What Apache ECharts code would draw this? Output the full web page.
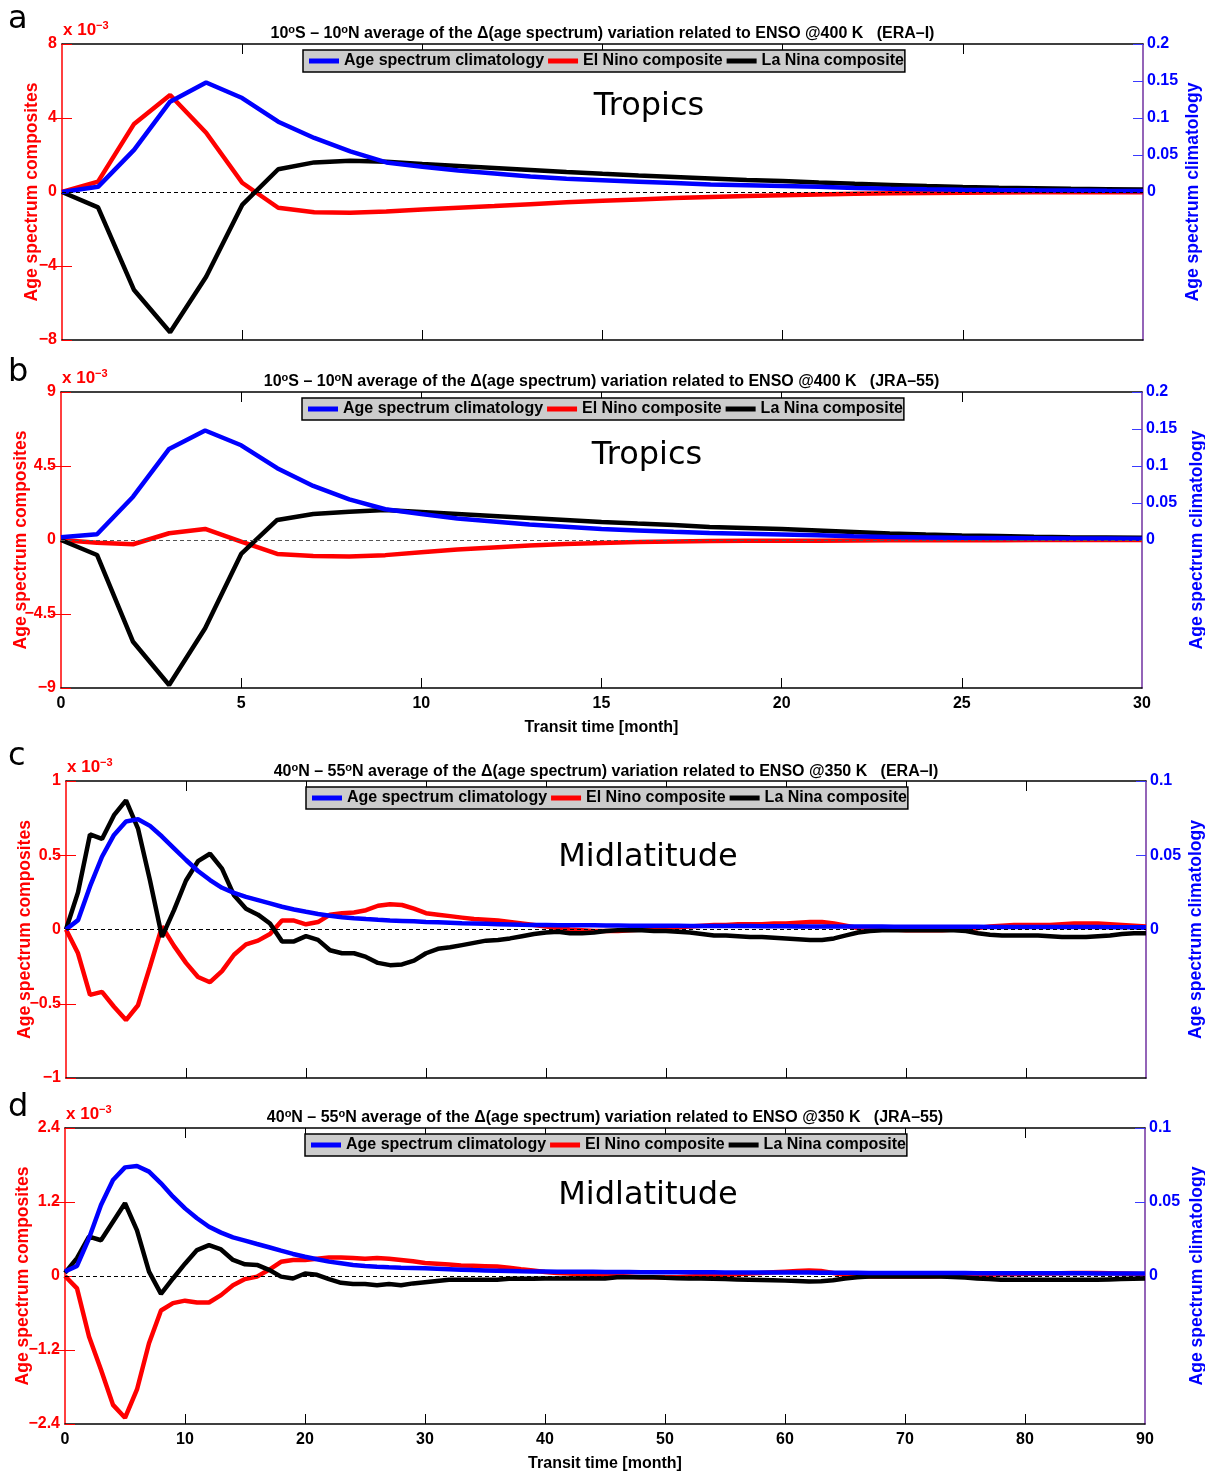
<!DOCTYPE html>
<html><head><meta charset="utf-8">
<script src="https://cdn.jsdelivr.net/npm/echarts@6/dist/echarts.min.js"></script>
<style>html,body{margin:0;padding:0;background:#fff}#c{width:1205px;height:1476px}</style>
</head><body><div id="c"></div>
<script>
// ---------------- DATA ----------------
const monthsTropics = [0,1,2,3,4,5,6,7,8,9,10,11,12,13,14,15,16,17,18,19,20,21,22,23,24,25,26,27,28,29,30];
const monthsMidlat = [0,1,2,3,4,5,6,7,8,9,10,11,12,13,14,15,16,17,18,19,20,21,22,23,24,25,26,27,28,29,30,
  31,32,33,34,35,36,37,38,39,40,41,42,43,44,45,46,47,48,49,50,51,52,53,54,55,56,57,58,59,60,
  61,62,63,64,65,66,67,68,69,70,71,72,73,74,75,76,77,78,79,80,81,82,83,84,85,86,87,88,89,90];
const xTicksTropics = [0,5,10,15,20,25,30];
const xTicksMidlat = [0,10,20,30,40,50,60,70,80,90];

// panel a (ERA-I, tropics, 400 K)
const aClim  = [0,0.007,0.057,0.122,0.148,0.127,0.095,0.073,0.055,0.040,0.034,0.029,0.025,0.021,0.018,0.016,0.014,0.012,0.010,0.009,0.008,0.007,0.0055,0.0045,0.0038,0.0032,0.0027,0.0023,0.002,0.0017,0.0015];
const aElNino = [0,0.56,3.68,5.24,3.2,0.5,-0.85,-1.1,-1.12,-1.05,-0.95,-0.85,-0.76,-0.66,-0.56,-0.47,-0.4,-0.33,-0.27,-0.22,-0.18,-0.14,-0.1,-0.07,-0.05,-0.04,-0.03,-0.02,-0.02,-0.01,-0.01];
const aLaNina = [0,-0.83,-5.3,-7.58,-4.58,-0.7,1.23,1.6,1.69,1.64,1.52,1.41,1.3,1.19,1.08,0.98,0.89,0.81,0.73,0.65,0.59,0.51,0.44,0.38,0.32,0.27,0.23,0.2,0.17,0.15,0.13];

// panel b (JRA-55, tropics, 400 K)
const bClim  = [0.0036,0.0077,0.0585,0.123,0.148,0.128,0.097,0.073,0.055,0.0415,0.035,0.029,0.025,0.021,0.018,0.015,0.013,0.011,0.0095,0.0085,0.0075,0.0065,0.005,0.004,0.0035,0.003,0.0027,0.0024,0.0021,0.0019,0.0017];
const bElNino = [0,-0.16,-0.26,0.41,0.67,-0.1,-0.85,-0.97,-1.0,-0.92,-0.74,-0.58,-0.46,-0.34,-0.25,-0.18,-0.12,-0.09,-0.06,-0.05,-0.05,-0.04,-0.03,-0.02,-0.02,-0.01,-0.01,0,0,0,0];
const bLaNina = [0,-0.91,-6.19,-8.82,-5.37,-0.85,1.22,1.58,1.72,1.82,1.7,1.58,1.46,1.34,1.22,1.1,1.0,0.91,0.79,0.73,0.67,0.58,0.49,0.4,0.33,0.27,0.24,0.2,0.17,0.15,0.13];

// panel c (ERA-I, midlatitude, 350 K)
const cClim = [0,0.0063,0.029,0.049,0.0637,0.0727,0.0743,0.0698,0.0626,0.0547,0.0468,0.0394,0.0333,0.0281,0.0247,0.022,0.0198,0.0176,0.0153,0.0135,
  0.0119,0.0104,0.0093,0.0083,0.0076,0.007,0.0065,0.0061,0.0058,0.0055,0.0051,0.0048,0.0045,0.0042,0.004,0.0038,0.0036,0.0034,0.0032,0.0031,0.003,
  0.0029,0.0029,0.0028,0.0028,0.0027,0.0027,0.0026,0.0026,0.0025,0.0025,0.0025,0.0024,0.0024,0.0024,0.0023,0.0023,0.0023,0.0022,0.0022,0.0022,
  0.0021,0.0021,0.0021,0.0021,0.002,0.002,0.002,0.002,0.0019,0.0019,0.0019,0.0019,0.0018,0.0018,0.0018,0.0018,0.0017,0.0017,0.0017,0.0017,0.0017,
  0.0016,0.0016,0.0016,0.0016,0.0016,0.0015,0.0015,0.0015,0.0015];
const cElNino = [0,-0.16,-0.44,-0.42,-0.52,-0.61,-0.51,-0.25,0.02,-0.11,-0.225,-0.32,-0.355,-0.28,-0.17,-0.1,-0.075,-0.03,0.06,0.06,
  0.035,0.05,0.1,0.11,0.115,0.13,0.16,0.17,0.165,0.14,0.11,0.1,0.09,0.08,0.07,0.065,0.06,0.05,0.04,0.03,0.02,
  0.01,0.0,-0.005,-0.01,-0.01,-0.01,-0.005,0.0,0.005,0.01,0.015,0.02,0.025,0.03,0.03,0.035,0.035,0.035,0.04,0.04,
  0.045,0.05,0.05,0.04,0.025,0.01,0.005,0.0,0.0,-0.005,-0.005,-0.005,-0.005,0.0,0.0,0.01,0.02,0.025,0.03,0.03,
  0.03,0.03,0.035,0.04,0.04,0.04,0.035,0.03,0.025,0.02];
const cLaNina = [0,0.25,0.64,0.61,0.77,0.87,0.68,0.33,-0.05,0.13,0.33,0.46,0.51,0.41,0.23,0.14,0.1,0.04,-0.08,-0.08,
  -0.045,-0.07,-0.14,-0.16,-0.16,-0.185,-0.225,-0.24,-0.235,-0.21,-0.16,-0.13,-0.12,-0.105,-0.09,-0.075,-0.07,-0.06,-0.045,-0.03,
  -0.02,-0.015,-0.025,-0.025,-0.02,-0.01,-0.005,-0.005,-0.005,-0.01,-0.01,-0.015,-0.02,
  -0.03,-0.04,-0.04,-0.045,-0.05,-0.05,-0.055,-0.06,-0.065,-0.07,-0.07,-0.06,-0.04,-0.02,-0.01,-0.005,-0.005,-0.005,
  -0.005,-0.005,-0.005,-0.005,-0.01,-0.025,-0.035,-0.04,-0.04,-0.04,-0.04,-0.045,-0.05,-0.05,-0.05,-0.045,-0.04,-0.03,-0.025,-0.025];

// panel d (JRA-55, midlatitude, 350 K)
const dClim = [0.003,0.0068,0.0255,0.048,0.0649,0.0734,0.0743,0.0705,0.0626,0.0536,0.0457,0.039,0.0333,0.0293,0.0261,0.0239,0.0216,0.0194,0.0171,0.0149,
  0.013,0.0113,0.0097,0.0086,0.0075,0.0068,0.0063,0.0059,0.0056,0.0054,0.0052,0.0049,0.0046,0.0043,0.004,0.0038,0.0036,0.0034,0.0032,0.0031,0.003,
  0.0029,0.0029,0.0028,0.0028,0.0027,0.0027,0.0027,0.0026,0.0026,0.0026,0.0025,0.0025,0.0025,0.0025,0.0024,0.0024,0.0024,0.0024,0.0023,0.0023,
  0.0023,0.0023,0.0022,0.0022,0.0022,0.0022,0.0021,0.0021,0.0021,0.0021,0.002,0.002,0.002,0.002,0.002,0.0019,0.0019,0.0019,0.0019,0.0019,
  0.0018,0.0018,0.0018,0.0018,0.0018,0.0017,0.0017,0.0017,0.0017,0.0017];
const dElNino = [0,-0.2,-0.98,-1.52,-2.09,-2.3,-1.84,-1.09,-0.56,-0.44,-0.40,-0.43,-0.43,-0.31,-0.15,-0.05,-0.01,0.1,0.23,0.26,
  0.26,0.28,0.3,0.3,0.29,0.28,0.29,0.28,0.26,0.24,0.21,0.2,0.185,0.17,0.165,0.16,0.155,0.135,0.11,0.09,0.065,0.05,
  0.04,0.03,0.02,0.01,0.0,-0.01,-0.02,-0.02,-0.02,-0.02,-0.01,0.0,0.01,0.02,0.03,0.04,0.05,0.06,0.07,0.08,0.09,0.08,0.05,0.02,
  0.0,-0.01,-0.01,-0.01,-0.01,-0.01,-0.01,-0.005,0.0,0.0,0.01,0.02,0.03,0.03,0.035,0.04,0.04,0.045,0.05,0.05,0.05,0.045,0.04,0.035,0.03];
const dLaNina = [0.05,0.29,0.64,0.58,0.88,1.18,0.74,0.07,-0.29,-0.04,0.2,0.42,0.5,0.43,0.26,0.19,0.18,0.1,-0.01,-0.04,
  0.04,0.02,-0.05,-0.11,-0.13,-0.13,-0.15,-0.13,-0.15,-0.12,-0.1,-0.08,-0.06,-0.06,-0.06,-0.06,-0.06,-0.045,-0.045,-0.045,
  -0.04,-0.04,-0.04,-0.04,-0.04,-0.04,-0.02,-0.02,-0.02,-0.02,-0.03,-0.035,-0.04,
  -0.04,-0.045,-0.05,-0.055,-0.06,-0.065,-0.07,-0.075,-0.08,-0.09,-0.085,-0.07,-0.04,-0.02,-0.01,-0.01,-0.01,-0.01,-0.01,
  -0.01,-0.01,-0.015,-0.025,-0.04,-0.05,-0.06,-0.06,-0.06,-0.06,-0.06,-0.06,-0.06,-0.06,-0.06,-0.055,-0.05,-0.045,-0.04];

const seriesNames = ['Age spectrum climatology','El Nino composite','La Nina composite'];
const leftAxisName = 'Age spectrum composites';
const rightAxisName = 'Age spectrum climatology';
const xAxisName = 'Transit time [month]';

// ---------------- LAYOUT ----------------
const FONT = 'Liberation Sans, Arial, Helvetica, sans-serif';
const panels = [
  {letter:'a', months:monthsTropics, xTicks:xTicksTropics, clim:aClim, nino:aElNino, nina:aLaNina,
   grid:{left:62, top:44, width:1081, height:296}, yMax:8, yInt:4, rMax:0.2, rInt:0.05, showX:false,
   title:'10{s|o}S – 10{s|o}N average of the Δ(age spectrum) variation related to ENSO @400 K   (ERA–I)',
   titleTop:24, legend:{left:303, top:50}, region:'Tropics', regionXY:[649,107], nameGapL:21, nameGapR:41, zeroColor:'#000'},
  {letter:'b', months:monthsTropics, xTicks:xTicksTropics, clim:bClim, nino:bElNino, nina:bLaNina,
   grid:{left:61, top:392, width:1081, height:296}, yMax:9, yInt:4.5, rMax:0.2, rInt:0.05, showX:true,
   title:'10{s|o}S – 10{s|o}N average of the Δ(age spectrum) variation related to ENSO @400 K   (JRA–55)',
   titleTop:372, legend:{left:302, top:398}, region:'Tropics', regionXY:[647,456], nameGapL:31, nameGapR:46, zeroColor:'#555'},
  {letter:'c', months:monthsMidlat, xTicks:xTicksMidlat, clim:cClim, nino:cElNino, nina:cLaNina,
   grid:{left:66, top:781, width:1080, height:297}, yMax:1, yInt:0.5, rMax:0.1, rInt:0.05, showX:false,
   title:'40{s|o}N – 55{s|o}N average of the Δ(age spectrum) variation related to ENSO @350 K   (ERA–I)',
   titleTop:762, legend:{left:306, top:787}, region:'Midlatitude', regionXY:[648,858], nameGapL:32, nameGapR:41, zeroColor:'#000'},
  {letter:'d', months:monthsMidlat, xTicks:xTicksMidlat, clim:dClim, nino:dElNino, nina:dLaNina,
   grid:{left:65, top:1128, width:1080, height:296}, yMax:2.4, yInt:1.2, rMax:0.1, rInt:0.05, showX:true,
   title:'40{s|o}N – 55{s|o}N average of the Δ(age spectrum) variation related to ENSO @350 K   (JRA–55)',
   titleTop:1108, legend:{left:305, top:1134}, region:'Midlatitude', regionXY:[648,1196], nameGapL:33, nameGapR:43, zeroColor:'#000'}
];
const letterTops = [4, 357, 741, 1092];

function fmtNum(v){ const s = String(+(+v).toFixed(3)); return s.replace('-', '\u2212'); }
function zip(xs, ys){ return xs.map((x,i)=>[x, ys[i]]); }

const option = {animation:false, backgroundColor:'#fff', grid:[], xAxis:[], yAxis:[], series:[], title:[], legend:[], graphic:[]};

panels.forEach((p, i) => {
  option.grid.push(Object.assign({containLabel:false, outerBoundsMode:'none'}, p.grid));
  const xMax = p.xTicks[p.xTicks.length-1];
  const xInt = p.xTicks[1] - p.xTicks[0];
  const inner = p.xTicks.slice(1, -1);
  option.xAxis.push({type:'value', gridIndex:i, position:'bottom', min:0, max:xMax, interval:xInt,
    axisLine:{show:true, onZero:false, lineStyle:{color:'#000', width:1.5}},
    axisTick:{show:true, inside:true, length:10, customValues:inner, lineStyle:{color:'#000', width:1}},
    axisLabel:{show:p.showX, color:'#000', fontWeight:'bold', fontSize:16, fontFamily:FONT, margin:8},
    splitLine:{show:false},
    name:p.showX ? xAxisName : '', nameLocation:'middle', nameGap:32, nameMoveOverlap:false,
    nameTextStyle:{color:'#000', fontWeight:'bold', fontSize:16, fontFamily:FONT}});
  option.xAxis.push({type:'value', gridIndex:i, position:'top', min:0, max:xMax, interval:xInt,
    axisLine:{show:true, onZero:false, lineStyle:{color:'#000', width:1.5}},
    axisTick:{show:true, inside:true, length:10, customValues:inner, lineStyle:{color:'#000', width:1}},
    axisLabel:{show:false}, splitLine:{show:false}});
  option.yAxis.push({type:'value', gridIndex:i, position:'left', min:-p.yMax, max:p.yMax, interval:p.yInt,
    axisLine:{show:true, onZero:false, lineStyle:{color:'#ff0000', width:1.5}},
    axisTick:{show:true, inside:true, length:10, lineStyle:{color:'#ff0000', width:1}},
    axisLabel:{color:'#ff0000', fontWeight:'bold', fontSize:16, fontFamily:FONT, margin:5, formatter:fmtNum},
    splitLine:{show:false},
    name:leftAxisName, nameLocation:'middle', nameGap:p.nameGapL, nameRotate:90, nameMoveOverlap:false,
    nameTextStyle:{color:'#ff0000', fontWeight:'bold', fontSize:17.5, fontFamily:FONT}});
  const rVals = [0, p.rInt, 2*p.rInt, 3*p.rInt, 4*p.rInt].filter(v => v <= p.rMax + 1e-9);
  option.yAxis.push({type:'value', gridIndex:i, position:'right', min:-p.rMax, max:p.rMax, interval:p.rInt,
    axisLine:{show:true, onZero:false, lineStyle:{color:'#7030a0', width:1.5}},
    axisTick:{show:true, inside:true, length:10, customValues:rVals, lineStyle:{color:'#3a3aff', width:1}},
    axisLabel:{color:'#0000ff', fontWeight:'bold', fontSize:16, fontFamily:FONT, margin:4,
      formatter: v => (v < -1e-9 ? '' : fmtNum(v))},
    splitLine:{show:false},
    name:rightAxisName, nameLocation:'middle', nameGap:p.nameGapR, nameRotate:90, nameMoveOverlap:false,
    nameTextStyle:{color:'#0000ff', fontWeight:'bold', fontSize:17.5, fontFamily:FONT}});
  option.yAxis.push({type:'value', gridIndex:i, position:'right', min:-p.yMax, max:p.yMax, interval:p.yInt,
    axisLine:{show:false},
    axisTick:{show:true, inside:true, length:10, customValues:[p.yInt, -p.yInt], lineStyle:{color:'#ff0000', width:1}},
    axisLabel:{show:false}, splitLine:{show:false}});

  const xi = 2*i, yl = 3*i, yr = 3*i+1;
  option.series.push({type:'line', name:seriesNames[1], xAxisIndex:xi, yAxisIndex:yl, data:zip(p.months, p.nino),
    showSymbol:false, symbol:'none', z:2, lineStyle:{color:'#ff0000', width:4.5}, itemStyle:{color:'#ff0000'},
    markLine:{silent:true, symbol:'none', label:{show:false}, animation:false,
      lineStyle:{color:p.zeroColor, width:1, type:[4,3]}, data:[{yAxis:0}]}});
  option.series.push({type:'line', name:seriesNames[2], xAxisIndex:xi, yAxisIndex:yl, data:zip(p.months, p.nina),
    showSymbol:false, symbol:'none', z:3, lineStyle:{color:'#000000', width:4.5}, itemStyle:{color:'#000000'}});
  option.series.push({type:'line', name:seriesNames[0], xAxisIndex:xi, yAxisIndex:yr, data:zip(p.months, p.clim),
    showSymbol:false, symbol:'none', z:4, lineStyle:{color:'#0000ff', width:4.5}, itemStyle:{color:'#0000ff'}});

  const cx = p.grid.left + p.grid.width/2;
  option.title.push({text:p.title, left:cx, top:p.titleTop, textAlign:'center', padding:0,
    textStyle:{fontSize:16, fontWeight:'bold', fontFamily:FONT, color:'#000',
      rich:{s:{fontSize:11, fontWeight:'bold', fontFamily:FONT, color:'#000', padding:[0,0,8,0]}}}});
  option.legend.push({left:p.legend.left, top:p.legend.top, orient:'horizontal', data:seriesNames.slice(),
    icon:'rect', itemWidth:30, itemHeight:5, itemGap:4, selectedMode:false,
    backgroundColor:'#cccccc', borderColor:'#000', borderWidth:1.5, borderRadius:0, padding:[3,1,3,6],
    textStyle:{fontSize:16, fontWeight:'bold', fontFamily:FONT, color:'#000'}});
  option.graphic.push({type:'text', left:8, top:letterTops[i], z:10,
    style:{text:p.letter, fontSize:32, fontFamily:'DejaVu Sans', fill:'#000'}});
  option.graphic.push({type:'text', x:p.grid.left+1, y:p.grid.top-4, z:10,
    style:{text:'x 10{s|\u22123}', fontSize:17, fontWeight:'bold', fontFamily:FONT, fill:'#ff0000', verticalAlign:'bottom',
      rich:{s:{fontSize:11, fontWeight:'bold', fontFamily:FONT, fill:'#ff0000', padding:[0,0,9,0]}}}});
  option.graphic.push({type:'text', x:p.regionXY[0], y:p.regionXY[1], z:10,
    style:{text:p.region, fontSize:32, fontFamily:'DejaVu Sans', fill:'#000', align:'center', verticalAlign:'middle'}});
});

const chart = echarts.init(document.getElementById('c'), null, {renderer:'canvas'});
chart.setOption(option);
</script>
</body></html>
